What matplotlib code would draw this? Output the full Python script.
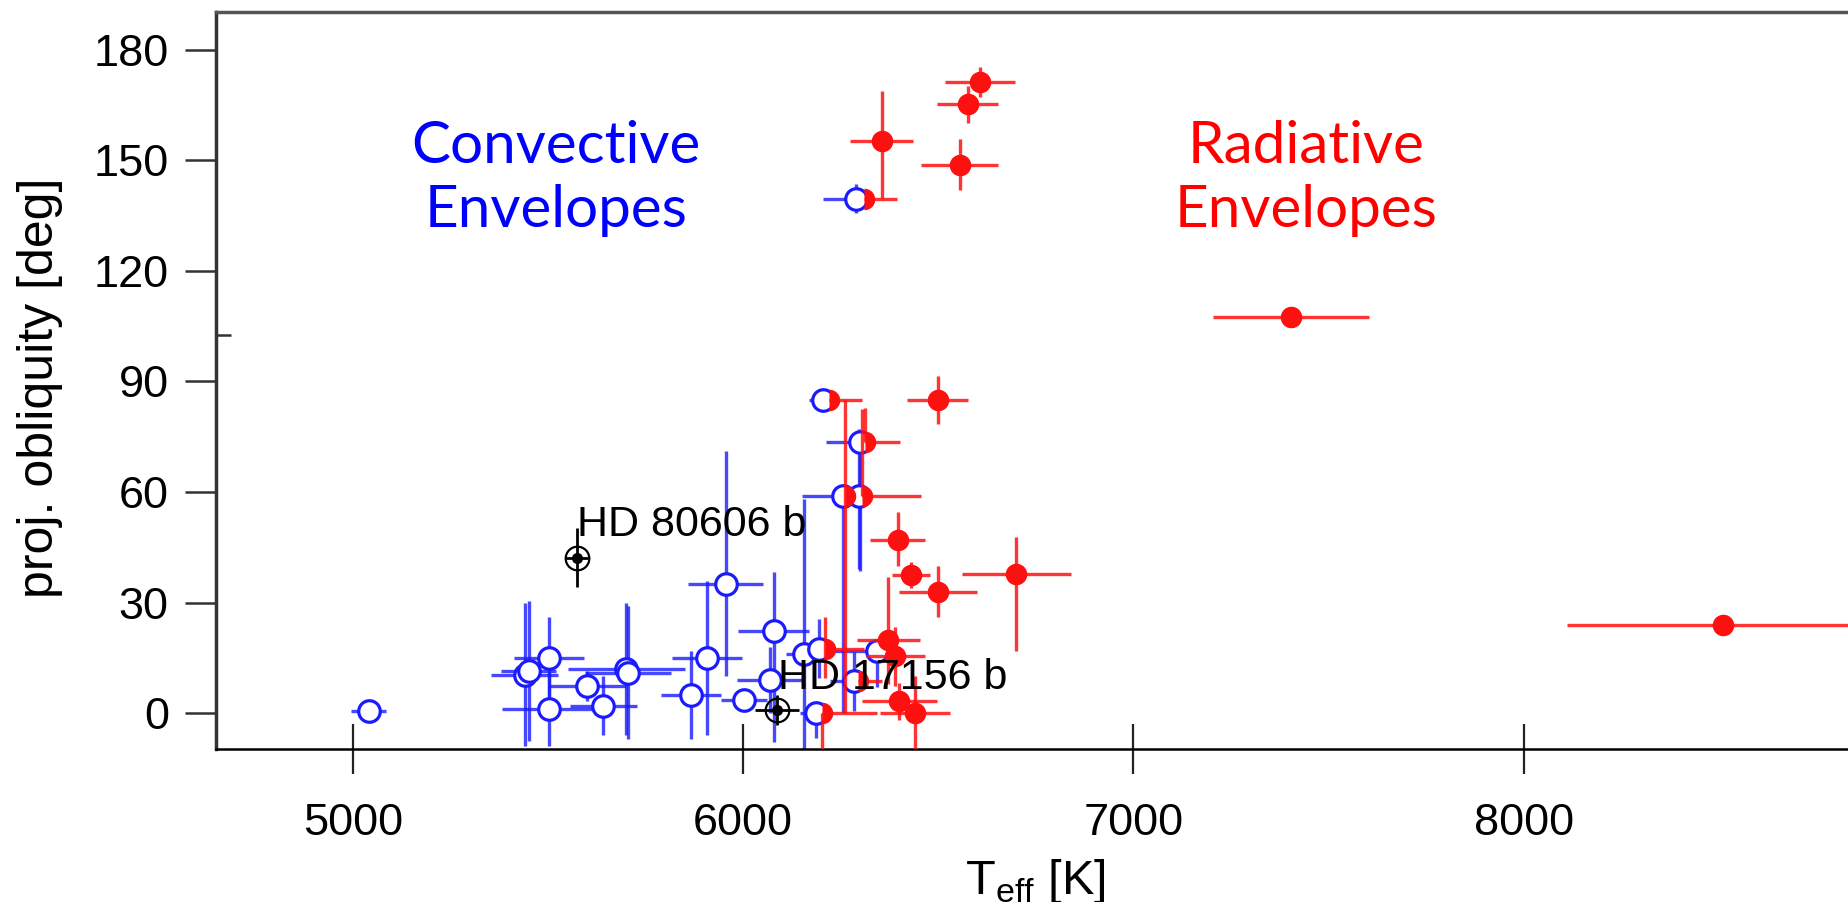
import numpy as np
import matplotlib.pyplot as plt
from matplotlib.ticker import FixedLocator

plt.rcParams['font.family'] = ['Liberation Sans', 'DejaVu Sans']
plt.rcParams['mathtext.fontset'] = 'custom'
plt.rcParams['mathtext.rm'] = 'Liberation Sans'

# convective envelopes (blue open circles)
conv_T = [5040, 5440, 5450, 5502, 5502, 5601, 5641, 5700, 5705, 5866, 5908, 5955, 6002,
          6078, 6070, 6155, 6290, 6205, 6300, 6256, 6298, 6195, 6344, 6186, 6283]
conv_obl = [0.6, 10.5, 11.5, 15.1, 1.1, 7.4, 2.0, 12.0, 11.0, 5.0, 15.0, 35.0, 3.7,
            22.3, 9.0, 16.0, 139.6, 85.0, 73.7, 59.0, 59.0, 17.5, 17.0, 0.2, 8.7]
conv_dT_lo = [45, 85, 70, 89, 120, 100, 86, 150, 110, 77, 90, 97, 60,
              90, 85, 45, 85, 36, 87, 104, 0, 40, 141, 40, 60]
conv_dT_hi = [45, 85, 70, 89, 120, 100, 86, 150, 110, 77, 90, 97, 60,
              90, 85, 45, 0, 0, 0, 0, 0, 0, 0, 0, 0]
conv_do_lo = [0, 19.5, 19, 11, 10, 4, 8, 18, 18, 12, 21, 25, 3,
              30, 9, 26, 4, 0, 35, 59, 20, 8, 10, 7, 8]
conv_do_hi = [0, 19.5, 19, 11, 10, 4, 8, 18, 18, 12, 21, 36, 3,
              16, 9, 42, 4, 0, 0, 0, 18, 8, 0, 0, 8]

# radiative envelopes (red filled circles); half = drawn as right half only
rad_T = [6607, 6575, 6355, 6555, 7403, 8512, 6499, 6396, 6430, 6499, 6700, 6372, 6400,
         6440, 6390, 6310, 6220, 6312, 6262, 6305, 6210, 6203, 6295]
rad_obl = [171.2, 165.2, 155.3, 148.8, 107.5, 24.0, 85.0, 47.0, 37.4, 33.0, 37.8, 20.0, 3.3,
           0.2, 15.5, 139.6, 85.0, 73.7, 59.0, 59.0, 17.5, 0.2, 8.7]
rad_dT_lo = [90, 78, 80, 98, 200, 400, 78, 70, 48, 100, 139, 80, 96,
             90, 75, 0, 0, 0, 0, 0, 0, 0, 0]
rad_dT_hi = [90, 78, 80, 98, 200, 400, 78, 70, 48, 100, 139, 80, 96,
             90, 75, 85, 85, 90, 0, 150, 100, 141, 60]
rad_do_lo = [4, 5, 15.5, 7, 1.5, 2.5, 6.5, 7, 3.5, 7, 21, 12, 5,
             10, 8, 0, 0, 0, 59, 0, 8, 10, 0]
rad_do_hi = [4, 5, 13.5, 7, 1.5, 2.5, 6.5, 7.5, 3.5, 7, 10, 17, 5,
             10, 8, 0, 0, 9, 26, 23.6, 8.5, 0, 0]
rad_half = [False] * 15 + [True] * 8

# highlighted systems
hd_names = ['HD 80606 b', 'HD 17156 b']
hd_T = [5573, 6086]
hd_obl = [42.2, 0.9]
hd_dT = [30, 56]
hd_dobl = [8, 4]
hd_label_T = [5574, 6088]
hd_label_obl = [51, 9.5]

blue = '#1a1aff'
red = '#ff1010'

fig = plt.figure(figsize=(18.49, 9.02), dpi=100)
ax = fig.add_axes([0.11682, 0.16962, 0.88318, 0.81707])

ax.errorbar(conv_T, conv_obl, xerr=[conv_dT_lo, conv_dT_hi], yerr=[conv_do_lo, conv_do_hi],
            fmt='none', ecolor=blue, elinewidth=2.4, alpha=0.8, capsize=0, zorder=2)
ax.plot(conv_T, conv_obl, 'o', ms=15.5, mfc='white', mec=blue, mew=2.3, ls='none', zorder=3)

full = [not h for h in rad_half]
rT = np.array(rad_T)
rO = np.array(rad_obl)
ax.errorbar(rad_T, rad_obl, xerr=[rad_dT_lo, rad_dT_hi], yerr=[rad_do_lo, rad_do_hi],
            fmt='none', ecolor=red, elinewidth=2.4, alpha=0.85, capsize=0, zorder=4)
ax.plot(rT[full], rO[full], 'o', ms=14.5, mfc=red, mec=red, ls='none', zorder=5)
ax.plot(rT[rad_half], rO[rad_half], 'o', ms=15.5, fillstyle='right', mfc=red,
        mec='none', ls='none', zorder=5)

ax.errorbar(hd_T, hd_obl, xerr=hd_dT, yerr=hd_dobl, fmt='none', ecolor='black',
            elinewidth=2, capsize=0, zorder=6)
ax.plot(hd_T, hd_obl, 'o', ms=17, mfc='none', mec='black', mew=1.6, ls='none', zorder=7)
ax.plot(hd_T, hd_obl, 'o', ms=7, mfc='black', mec='black', ls='none', zorder=7)
for name, tx, ty in zip(hd_names, hd_label_T, hd_label_obl):
    ax.text(tx, ty, name, fontsize=31, ha='left', va='center', zorder=8)

ax.text(5520, 145, 'Convective\nEnvelopes', color='blue', fontsize=42, family='Lato',
        ha='center', va='center', linespacing=1.25)
ax.text(7442, 145, 'Radiative\nEnvelopes', color='red', fontsize=42, family='Lato',
        ha='center', va='center', linespacing=1.25)

ax.set_xlim(4649, 8834)
ax.set_ylim(-9.7, 190.2)
ax.set_xticks([5000, 6000, 7000, 8000])
ax.set_yticks([0, 30, 60, 90, 120, 150, 180])
ax.yaxis.set_minor_locator(FixedLocator([102.7]))
ax.tick_params(axis='y', which='major', direction='out', length=22, width=1.8,
               pad=12, labelsize=32.5, color='#333333')
ax.tick_params(axis='y', which='minor', direction='in', length=11, width=1.8, color='#333333')
ax.tick_params(axis='x', which='major', direction='inout', length=36, width=1.6,
               pad=21, labelsize=32.5, color='#222222')

ax.spines['right'].set_visible(False)
ax.spines['left'].set_linewidth(2.5)
ax.spines['left'].set_color('#333333')
ax.spines['top'].set_linewidth(2.5)
ax.spines['top'].set_color('#555555')
ax.spines['bottom'].set_linewidth(1.8)
ax.spines['bottom'].set_color('black')

ax.set_xlabel(r'T$_{\mathrm{eff}}$ [K]', fontsize=35)
ax.xaxis.set_label_coords(0.502, -0.146)
ax.set_ylabel('proj. obliquity [deg]', fontsize=36)
ax.yaxis.set_label_coords(-0.0937, 0.49)

fig.savefig('out.png', dpi=100)
